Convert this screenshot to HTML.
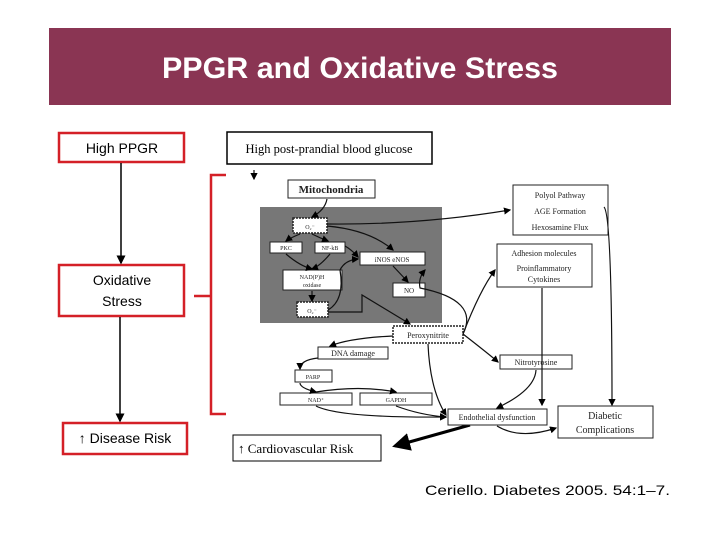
<!DOCTYPE html>
<html><head><style>
body{margin:0;background:#fff}
svg text{font-family:"Liberation Serif",serif}
svg text.s{font-family:"Liberation Sans",sans-serif}
</style></head><body>
<svg width="720" height="540" viewBox="0 0 720 540" xmlns="http://www.w3.org/2000/svg">
<defs><marker id="a" markerWidth="6" markerHeight="6" refX="5" refY="3" orient="auto"><path d="M0,0L6,3L0,6z" fill="#000"/></marker></defs>
<rect x="49" y="28" width="622" height="77" fill="#8a3553"/>
<text class="s" x="162" y="78" font-size="30" font-weight="bold" fill="#fff" textLength="396" lengthAdjust="spacingAndGlyphs">PPGR and Oxidative Stress</text>
<!-- left -->
<g fill="#fff" stroke="#d42027" stroke-width="2.5">
<rect x="59" y="133" width="125" height="29"/>
<rect x="59" y="265" width="125" height="51"/>
<rect x="63" y="423" width="124" height="31"/>
</g>
<g font-size="14" text-anchor="middle">
<text class="s" x="122" y="153">High PPGR</text>
<text class="s" x="122" y="285">Oxidative</text>
<text class="s" x="122" y="306">Stress</text>
<text class="s" x="125" y="443">↑ Disease Risk</text>
</g>
<g stroke="#000" stroke-width="1.5" marker-end="url(#a)">
<line x1="121" y1="163" x2="121" y2="263"/>
<line x1="120" y1="317" x2="120" y2="421"/>
</g>
<path d="M226,175H211V414H226M211,296H194" fill="none" stroke="#d42027" stroke-width="2.5"/>
<!-- top/bottom boxes -->
<rect x="227" y="132" width="205" height="32" fill="#fff" stroke="#000" stroke-width="1.5"/>
<text x="329" y="153" font-size="12.5" text-anchor="middle">High post-prandial blood glucose</text>
<rect x="233" y="435" width="148" height="26" fill="#fff" stroke="#000" stroke-width="1"/>
<text x="238" y="453" font-size="13">↑ Cardiovascular Risk</text>
<line x1="470" y1="425" x2="395" y2="446" stroke="#000" stroke-width="3" marker-end="url(#a)"/>
<!-- panel -->
<rect x="260" y="207" width="182" height="116" fill="#777"/>
<g fill="#fff" stroke="#222" stroke-width="1">
<rect x="288" y="180" width="87" height="18"/>
<rect x="513" y="185" width="95" height="50"/>
<rect x="270" y="242" width="32" height="11"/>
<rect x="315" y="242" width="30" height="11"/>
<rect x="360" y="252" width="65" height="13"/>
<rect x="283" y="270" width="59" height="20"/>
<rect x="393" y="283" width="32" height="14"/>
<rect x="497" y="244" width="95" height="43"/>
<rect x="318" y="347" width="70" height="12"/>
<rect x="500" y="355" width="72" height="14"/>
<rect x="295" y="370" width="37" height="12"/>
<rect x="280" y="393" width="72" height="12"/>
<rect x="360" y="393" width="72" height="12"/>
<rect x="448" y="409" width="99" height="16"/>
<rect x="558" y="406" width="95" height="32"/>
<rect x="293" y="218" width="34" height="15" stroke-dasharray="2,1" stroke-width="1.5"/>
<rect x="297" y="302" width="31" height="15" stroke-dasharray="2,1" stroke-width="1.5"/>
<rect x="393" y="326" width="70" height="17" stroke-dasharray="2,1" stroke-width="1.5"/>
</g>
<g font-size="8" text-anchor="middle" fill="#222">
<text x="331" y="193" font-size="11" font-weight="bold">Mitochondria</text>
<text x="560" y="198">Polyol Pathway</text>
<text x="560" y="214">AGE Formation</text>
<text x="560" y="230">Hexosamine Flux</text>
<text x="310" y="229" font-size="6">O₂⁻</text>
<text x="286" y="250" font-size="6">PKC</text>
<text x="330" y="250" font-size="6">NF-kB</text>
<text x="392" y="262" font-size="7">iNOS   eNOS</text>
<text x="312" y="279" font-size="6">NAD(P)H</text>
<text x="312" y="287" font-size="6">oxidase</text>
<text x="409" y="293" font-size="7">NO</text>
<text x="312" y="313" font-size="6">O₂⁻</text>
<text x="544" y="256">Adhesion molecules</text>
<text x="544" y="271">Proinflammatory</text>
<text x="544" y="282">Cytokines</text>
<text x="428" y="338">Peroxynitrite</text>
<text x="353" y="356">DNA damage</text>
<text x="536" y="365">Nitrotyrosine</text>
<text x="313" y="379" font-size="6">PARP</text>
<text x="316" y="402" font-size="6">NAD⁺</text>
<text x="396" y="402" font-size="6">GAPDH</text>
<text x="497" y="420">Endothelial dysfunction</text>
<text x="605" y="419" font-size="10">Diabetic</text>
<text x="605" y="433" font-size="10">Complications</text>
</g>
<g fill="none" stroke="#111" stroke-width="1.2" marker-end="url(#a)">
<path d="M254,170V179"/>
<path d="M327,199Q325,210 312,217"/>
<path d="M327,224Q420,225 510,210"/>
<path d="M327,226Q370,230 393,250"/>
<path d="M300,234Q290,238 286,241"/>
<path d="M312,234Q320,238 328,241"/>
<path d="M286,254Q300,266 312,269"/>
<path d="M330,254Q320,266 312,269"/>
<path d="M312,291V301"/>
<path d="M328,310Q345,300 340,270Q345,260 358,259"/>
<path d="M345,246Q352,250 358,257"/>
<path d="M393,266L408,282"/>
<path d="M328,312H362V295L410,324"/>
<path d="M463,334Q480,300 420,288Q418,278 425,270"/>
<path d="M463,334Q480,290 495,270"/>
<path d="M463,334Q490,355 498,362"/>
<path d="M393,336Q350,338 330,346"/>
<path d="M428,344Q430,390 446,415"/>
<path d="M318,358Q300,360 300,369"/>
<path d="M300,383Q300,388 316,392"/>
<path d="M316,392Q360,385 396,392"/>
<path d="M316,406Q340,418 446,417"/>
<path d="M396,406Q420,415 446,417"/>
<path d="M536,370Q535,390 497,408"/>
<path d="M542,288V405"/>
<path d="M604,207Q612,215 612,405"/>
<path d="M497,426Q520,440 556,428"/>
</g>
<text class="s" x="425" y="495" font-size="14" textLength="245" lengthAdjust="spacingAndGlyphs">Ceriello. Diabetes 2005. 54:1–7.</text>
</svg>
</body></html>
